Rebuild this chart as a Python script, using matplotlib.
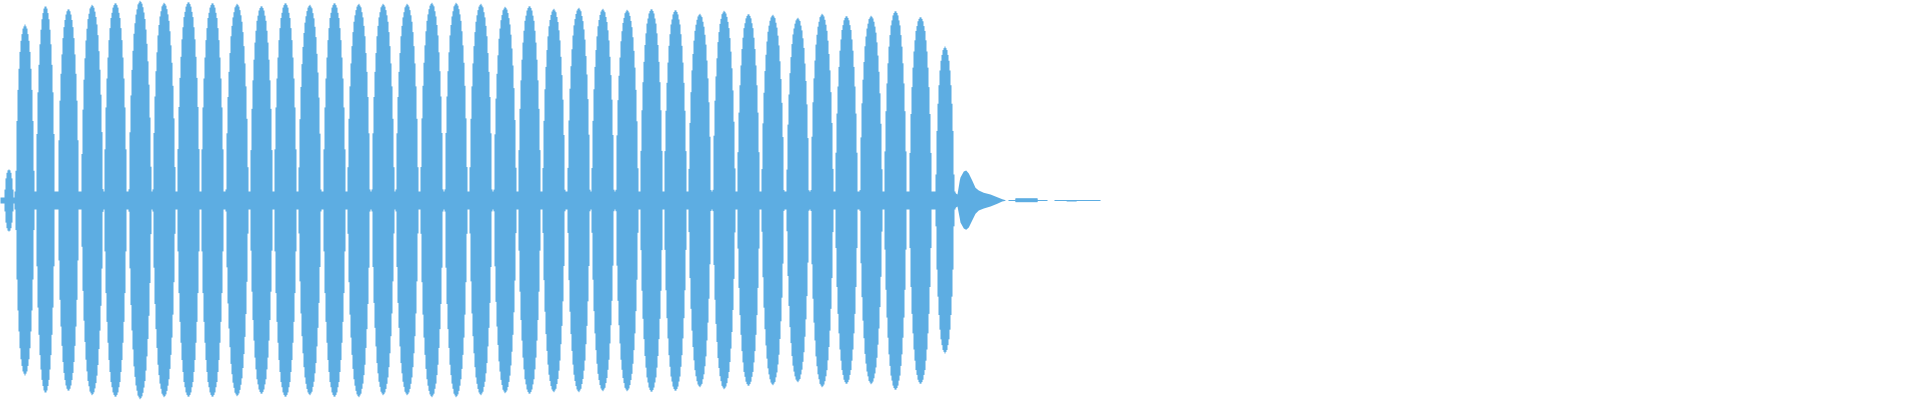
import numpy as np
import matplotlib.pyplot as plt

WAVE_COLOR = "#5DADE2"
FULL_SCALE = 200.0  # half height of the canvas in px

# beat lobes: centre column, peak height above / below the centre line (px), half width (px)
lobe_x = [8.5, 24.5, 45, 68, 91.7, 115, 139.7, 163.7, 188, 212, 236.7, 261, 285, 309.3,
          334, 358.3, 382.7, 406.7, 431.3, 455.7, 480.3, 504.7, 529, 553.3, 578.3, 602.3,
          626.7, 651, 675, 699.3, 723.7, 748, 772.3, 797.3, 821.7, 846, 870.7, 895, 920, 944.5]
lobe_top = [31, 176, 195, 192, 196, 198, 200, 198, 199, 198, 197, 195, 198, 196,
            198, 197, 197, 197, 198, 198, 197, 194, 195, 192, 193, 192,
            191, 192, 191, 187, 190, 187, 186, 183, 187, 185, 185, 190, 184, 154]
lobe_bottom = [31, 175, 193, 191, 195, 197, 199, 197, 197, 197, 196, 194, 197, 195,
               197, 197, 195, 195, 197, 197, 195, 193, 194, 192, 192, 191,
               191, 192, 191, 187, 189, 186, 185, 182, 187, 184, 184, 190, 184, 153]
lobe_halfwidth = [4.5, 9.5, 9.5, 10.5, 11] + [11.4] * 34 + [9.5]

# shape of one lobe: fraction of the peak vs. distance from centre (in half widths)
profile_u = [0, 0.2, 0.4, 0.55, 0.7, 0.8, 0.9, 0.95, 1.0]
profile_a = [1, 0.98, 0.92, 0.83, 0.68, 0.54, 0.33, 0.16, 0.0]

# low level band between the lobes
floor_start = [0, 14]
floor_end = [14, 955]
floor_amp = [3, 9]

# decay after the last lobe (x px, top px, bottom px)
tail_x = [954, 957, 959.3, 960, 963.3, 965.7, 968.3, 971.7, 975, 978.3, 983.3, 990, 996.7, 1001.7, 1005]
tail_top = [8, 6, 20, 23, 29, 30, 27, 20, 12.7, 10, 7.7, 6, 3.3, 1.3, 0.3]
tail_bottom = [8, 6, 18, 22, 28, 29.3, 27, 20, 13.3, 10, 8, 6, 3.3, 1, 0.3]
tail2_x = [1008, 1014.7, 1015, 1037, 1037.3, 1047]
tail2_top = [0.5, 0.5, 2.3, 2.3, 0.5, 0.5]
tail2_bottom = [0.5, 0.5, 1.7, 1.7, 0.5, 0.5]
tail3_x = [1054, 1066, 1066.3, 1076, 1076.3, 1100]
tail3_top = [0.5, 0.5, 0.5, 0.5, 0.5, 0.5]
tail3_bottom = [0.5, 0.5, 1.0, 1.0, 0.5, 0.5]

# per column envelope of the lobes
cols = np.arange(0, 956)
centres = cols + 0.5
env_top = np.zeros(len(cols))
env_bot = np.zeros(len(cols))
for cx, top, bot, hw in zip(lobe_x, lobe_top, lobe_bottom, lobe_halfwidth):
    shape = np.interp(np.abs(centres - cx) / hw, profile_u, profile_a, right=0.0)
    env_top = np.maximum(env_top, top * shape)
    env_bot = np.maximum(env_bot, bot * shape)
for s, e, a in zip(floor_start, floor_end, floor_amp):
    band = (centres >= s) & (centres < e)
    env_top[band] = np.maximum(env_top[band], a)
    env_bot[band] = np.maximum(env_bot[band], a)

fig = plt.figure(figsize=(19.2, 4), dpi=100)
ax = fig.add_axes([0, 0, 1, 1])

edges = np.append(cols, cols[-1] + 1)
ax.fill_between(edges, -np.append(env_bot, env_bot[-1]) / FULL_SCALE,
                np.append(env_top, env_top[-1]) / FULL_SCALE,
                step="post", color=WAVE_COLOR, linewidth=0, antialiased=False)

for xs, tops, bots in [(tail_x, tail_top, tail_bottom),
                       (tail2_x, tail2_top, tail2_bottom),
                       (tail3_x, tail3_top, tail3_bottom)]:
    ax.fill_between(xs, -np.array(bots) / FULL_SCALE, np.array(tops) / FULL_SCALE,
                    color=WAVE_COLOR, linewidth=0, antialiased=False)

ax.set_xlim(0, 1920)
ax.set_ylim(-1, 1)
ax.axis("off")

fig.savefig("out.png", dpi=100, facecolor="white")
